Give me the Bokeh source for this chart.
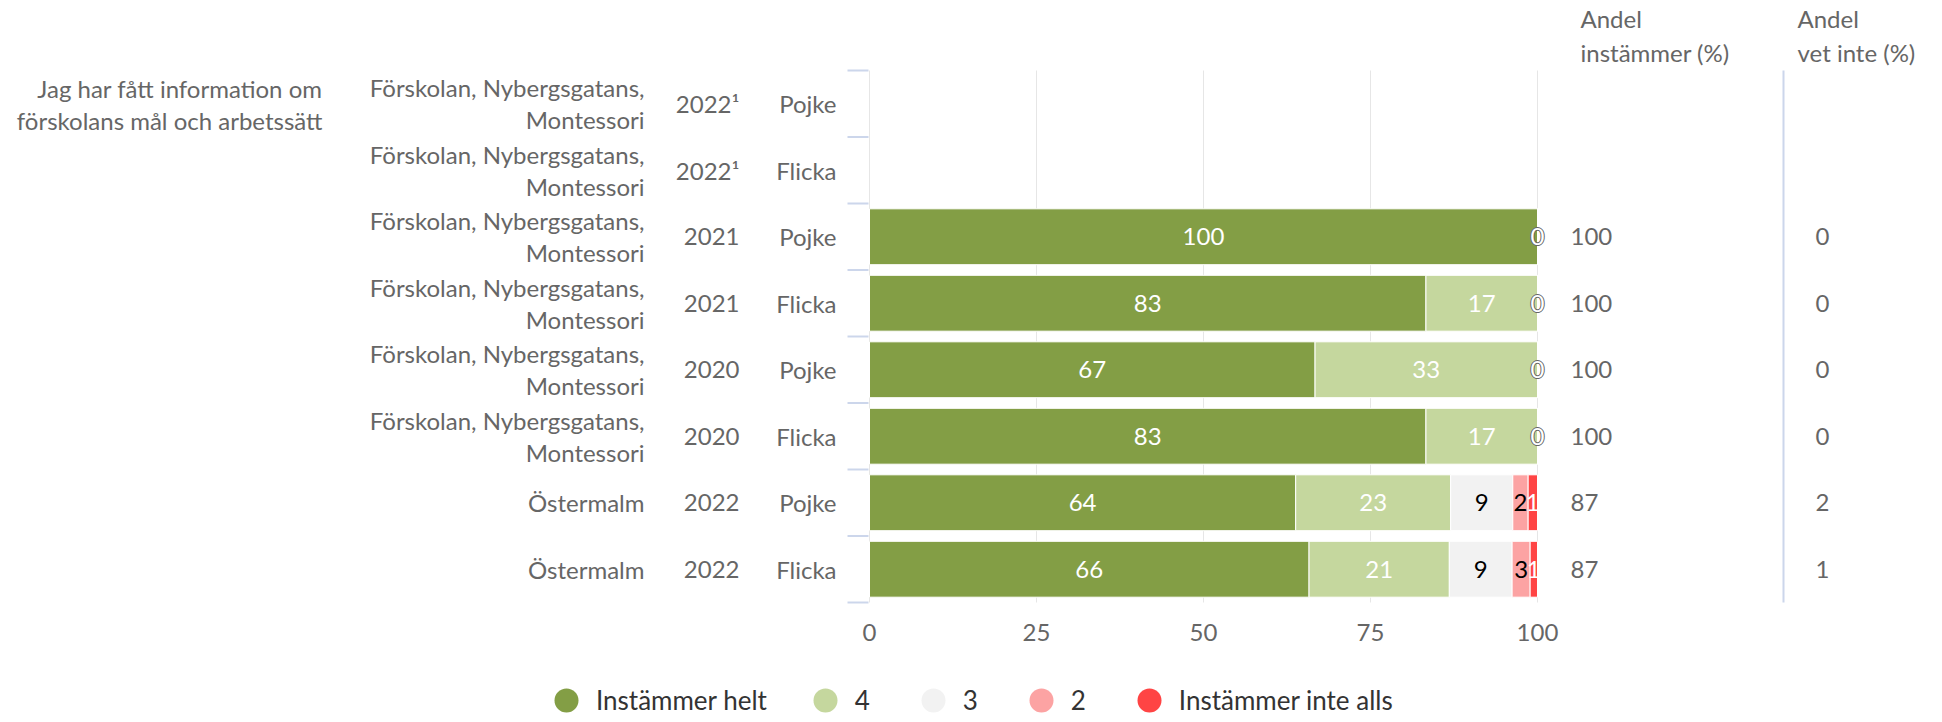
import numpy as np
from bokeh.plotting import figure
from bokeh.models import ColumnDataSource, Range1d, Legend, LegendItem
from bokeh.embed import file_html
from bokeh.resources import INLINE
from bokeh.core.properties import value

# ---------------- data ----------------
question = "Jag har fått information om\nförskolans mål och arbetssätt"
units = ["Förskolan, Nybergsgatans,\nMontessori"] * 6 + ["Östermalm"] * 2
years = ["2022¹", "2022¹", "2021", "2021", "2020", "2020", "2022", "2022"]
genders = ["Pojke", "Flicka", "Pojke", "Flicka", "Pojke", "Flicka", "Pojke", "Flicka"]

series_names = ["Instämmer helt", "4", "3", "2", "Instämmer inte alls"]
instammer_helt = [None, None, 100.0, 83.3, 66.7, 83.3, 63.8, 65.8]
svar_4 = [None, None, 0.0, 16.7, 33.3, 16.7, 23.2, 21.0]
svar_3 = [None, None, 0.0, 0.0, 0.0, 0.0, 9.3, 9.4]
svar_2 = [None, None, 0.0, 0.0, 0.0, 0.0, 2.3, 2.7]
instammer_inte_alls = [None, None, 0.0, 0.0, 0.0, 0.0, 1.4, 1.1]

andel_instammer = [None, None, 100, 100, 100, 100, 87, 87]
andel_vet_inte = [None, None, 0, 0, 0, 0, 2, 1]

x_ticks = [0, 25, 50, 75, 100]
header_instammer = "Andel\ninstämmer (%)"
header_vet_inte = "Andel\nvet inte (%)"

# ---------------- style / layout ----------------
colors = ["#839e45", "#c5d79e", "#f2f2f2", "#fca3a3", "#ff4444"]
label_colors = ["#ffffff", "#ffffff", "#000000", "#000000", "#ffffff"]
FONT_NAME = "Lato"
FONT = value(FONT_NAME)
FS = "24px"
TXT = "#666666"

W, H = 1934, 720
X0_PX, X100_PX = 869, 1537
K = (X100_PX - X0_PX) / 100.0
TOP_PX, ROW_PX = 70, 66.5
N = len(genders)


def xd(px):
    return (px - X0_PX) / K


def yd(py):
    return (py - TOP_PX) / ROW_PX - 0.5


p = figure(width=W, height=H, output_backend="svg", toolbar_location=None,
           x_range=Range1d(xd(0), xd(W)), y_range=Range1d(yd(H), yd(0)),
           min_border=0, x_axis_location=None, y_axis_location=None,
           outline_line_color=None)
p.grid.visible = False
p.background_fill_color = "white"
p.border_fill_color = "white"

rows = list(range(N))

# gridlines
p.segment(x0=x_ticks, x1=x_ticks, y0=[-0.5] * len(x_ticks), y1=[N - 0.5] * len(x_ticks),
          line_color="#e6e6e6", line_width=1)

# y-axis tick marks at band edges
edges = [i - 0.5 for i in range(N + 1)]
p.segment(x0=[xd(847)] * len(edges), x1=[xd(868)] * len(edges), y0=edges, y1=edges,
          line_color="#ccd6eb", line_width=2)

# separator line
p.segment(x0=[xd(1783)], x1=[xd(1783)], y0=[-0.5], y1=[N - 0.5],
          line_color="#ccd6eb", line_width=2)

# stacked bars
keys = ["s0", "s1", "s2", "s3", "s4"]
vals = [np.array(v, dtype=float) for v in
        (instammer_helt, svar_4, svar_3, svar_2, instammer_inte_alls)]
src = ColumnDataSource(dict(y=rows, **{k: v for k, v in zip(keys, vals)}))
p.hbar_stack(keys, y="y", height=0.84, color=colors, line_color="white",
             line_width=1, source=src)

# bar labels
lx, ly, lt, lc = [], [], [], []
zx, zy = [], []
for i in rows:
    if np.isnan(vals[0][i]):
        continue
    cum = 0.0
    has_zero = False
    for s in range(5):
        v = vals[s][i]
        if v > 0:
            lx.append(cum + v / 2)
            ly.append(i)
            lt.append(f"{v:.0f}")
            lc.append(label_colors[s])
        else:
            has_zero = True
        cum += v
    if has_zero:
        zx.append(cum)
        zy.append(i)

for dx, dy in [(-1, 0), (1, 0), (0, -1), (0, 1)]:
    p.text(x=zx, y=zy, text=["0"] * len(zx), text_align="center", text_baseline="middle",
           text_font=FONT, text_font_size=FS, text_color="#666666",
           x_offset=dx, y_offset=dy)
p.text(x=zx, y=zy, text=["0"] * len(zx), text_align="center", text_baseline="middle",
       text_font=FONT, text_font_size=FS, text_color="#ffffff")

p.text(x="x", y="y", text="t", text_color="c", source=ColumnDataSource(dict(x=lx, y=ly, t=lt, c=lc)),
       text_align="center", text_baseline="middle", text_font=FONT, text_font_size=FS)

# left label columns
p.text(x=[xd(322)], y=[yd(104)], text=[question], text_align="right", text_baseline="middle",
       text_font=FONT, text_font_size=FS, text_color=TXT, text_line_height=1.12)
p.text(x=[xd(644)] * N, y=rows, text=units, text_align="right", text_baseline="middle",
       text_font=FONT, text_font_size=FS, text_color=TXT, text_line_height=1.1)
p.text(x=[xd(739)] * N, y=rows, text=years, text_align="right", text_baseline="middle",
       text_font=FONT, text_font_size=FS, text_color=TXT)
p.text(x=[xd(836)] * N, y=rows, text=genders, text_align="right", text_baseline="middle",
       text_font=FONT, text_font_size=FS, text_color=TXT)

# right columns
ai_y = [i for i in rows if andel_instammer[i] is not None]
p.text(x=[xd(1570)] * len(ai_y), y=ai_y, text=[str(andel_instammer[i]) for i in ai_y],
       text_align="left", text_baseline="middle", text_font=FONT, text_font_size=FS, text_color=TXT)
vi_y = [i for i in rows if andel_vet_inte[i] is not None]
p.text(x=[xd(1822)] * len(vi_y), y=vi_y, text=[str(andel_vet_inte[i]) for i in vi_y],
       text_align="center", text_baseline="middle", text_font=FONT, text_font_size=FS, text_color=TXT)

p.text(x=[xd(1580), xd(1797)], y=[yd(35), yd(35)], text=[header_instammer, header_vet_inte],
       text_align="left", text_baseline="middle", text_font=FONT, text_font_size=FS,
       text_color=TXT, text_line_height=1.18)

# x tick labels
p.text(x=x_ticks, y=[yd(632)] * len(x_ticks), text=[str(t) for t in x_ticks],
       text_align="center", text_baseline="middle", text_font=FONT, text_font_size=FS, text_color=TXT)

# legend
items = []
for name, c in zip(series_names, colors):
    r = p.scatter(x=[np.nan], y=[np.nan], marker="circle", size=24, fill_color=c, line_color=None)
    items.append(LegendItem(label=name, renderers=[r]))
legend = Legend(items=items, orientation="horizontal", location=(536, -10),
                glyph_width=60, glyph_height=60, label_standoff=0, spacing=28,
                padding=0, margin=0, border_line_color=None, background_fill_alpha=0,
                label_text_font=FONT_NAME, label_text_font_size="26px", label_text_color="#333333")
p.add_layout(legend)

open("out.html", "w").write(file_html(p, INLINE))
